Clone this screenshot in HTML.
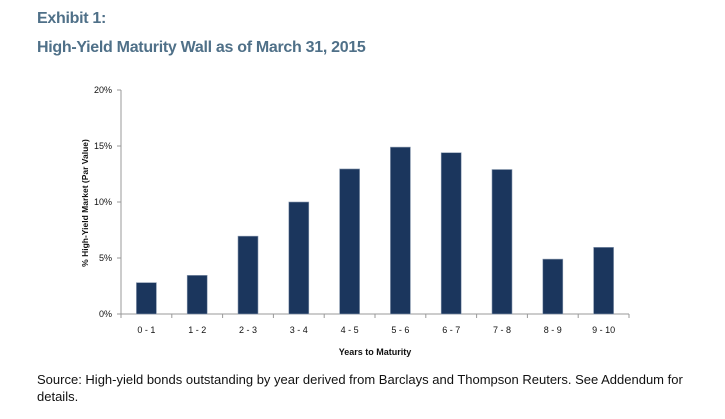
<!DOCTYPE html>
<html><head><meta charset="utf-8"><style>
body{margin:0;background:#fff;width:725px;height:419px;overflow:hidden;font-family:"Liberation Sans",sans-serif;}
.t{position:absolute;left:37px;color:#4f7088;font-weight:bold;font-size:16px;letter-spacing:-0.3px;}
.src{position:absolute;left:37px;top:371px;width:680px;font-size:13px;line-height:17px;color:#111;}
</style></head><body>
<div class="t" style="top:10px">Exhibit 1:</div>
<div class="t" style="top:39px">High-Yield Maturity Wall as of March 31, 2015</div>
<svg id="c" width="725" height="419" style="position:absolute;left:0;top:0"></svg>
<div class="src">Source: High-yield bonds outstanding by year derived from Barclays and Thompson Reuters. See Addendum for details.</div>
<script>
const categories=["0 - 1","1 - 2","2 - 3","3 - 4","4 - 5","5 - 6","6 - 7","7 - 8","8 - 9","9 - 10"];
const values=[2.8,3.45,6.95,10.0,12.95,14.9,14.4,12.9,4.9,5.95];
const yTicks=[0,5,10,15,20];
const svg=document.getElementById('c');
const NS='http://www.w3.org/2000/svg';
const X0=121,X1=629,Y0=314,Y1=90,YMAX=20;
const bw=(X1-X0)/categories.length;
const y=v=>Y0-(v/YMAX)*(Y0-Y1);
const xc=i=>X0+bw*(i+0.5);
function mk(t,a){const e=document.createElementNS(NS,t);for(const k in a)e.setAttribute(k,a[k]);svg.appendChild(e);return e;}
let e=mk('line',{x1:X0,y1:Y1,x2:X0,y2:Y0,stroke:'#999'});


e=mk('line',{x1:X0,y1:Y0,x2:X1,y2:Y0,stroke:'#999'});


yTicks.forEach(v=>{
 mk('line',{x1:X0-4,y1:y(v),x2:X0,y2:y(v),stroke:'#999'});
 const t=mk('text',{x:X0-9,y:y(v)+3,'text-anchor':'end','font-size':9,fill:'#111'});
 t.textContent=v+'%';
 
 
});
for(let i=0;i<=categories.length;i++){mk('line',{x1:X0+bw*i,y1:Y0,x2:X0+bw*i,y2:Y0+4,stroke:'#999'});}
categories.forEach((c,i)=>{
 const r=mk('rect',{x:xc(i)-10,y:y(values[i]),width:20,height:Y0-y(values[i]),fill:'#1b365d',stroke:'#8a9ab0','stroke-width':0.6});
 
 
 const t=mk('text',{x:xc(i),y:333,'text-anchor':'middle','font-size':9,fill:'#111'});
 t.textContent=c;
 
 
});
e=mk('text',{x:375,y:355,'text-anchor':'middle','font-size':9,'font-weight':'bold',fill:'#111'});
e.textContent='Years to Maturity';


e=mk('text',{x:0,y:0,'text-anchor':'middle','font-size':8.5,'font-weight':'bold',fill:'#111',transform:'translate(88,203) rotate(-90)'});
e.textContent='% High-Yield Market (Par Value)';


</script>
</body></html>
